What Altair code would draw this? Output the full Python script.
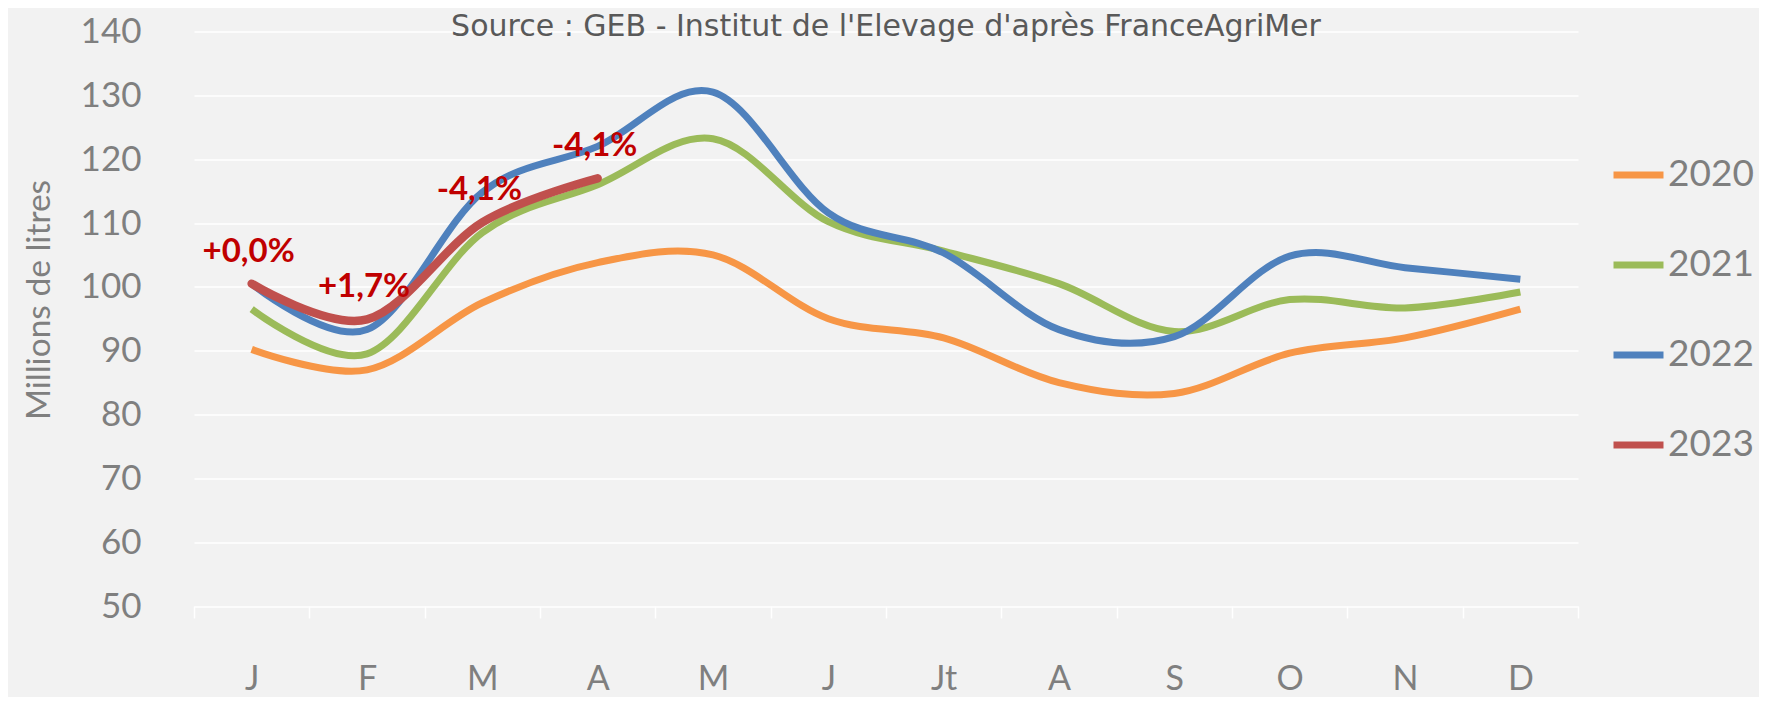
import altair as alt
import pandas as pd

# ---- data ----
month_labels = ["J", "F", "M", "A", "M", "J", "Jt", "A", "S", "O", "N", "D"]
month_idx = list(range(1, 13))
years = ["2020", "2021", "2022", "2023"]
colors = ["#F79646", "#9BBB59", "#4F81BD", "#C0504D"]

v2020 = [90.2, 87.0, 97.5, 103.8, 105.0, 95.0, 92.0, 85.0, 83.3, 89.6, 92.0, 96.5]
v2021 = [96.5, 89.5, 108.5, 116.0, 123.2, 110.2, 105.6, 100.5, 93.0, 98.0, 96.7, 99.2]
v2022 = [100.5, 93.3, 114.8, 122.0, 130.5, 111.6, 105.3, 93.3, 92.2, 104.8, 103.0, 101.2]
v2023 = [100.5, 94.9, 110.1, 117.0]
labels2023 = ["+0,0%", "+1,7%", "-4,1%", "-4,1%"]

title_text = "Source : GEB - Institut de l'Elevage d'après FranceAgriMer"
y_title = "Millions de litres"

rows = []
for yr, vals in zip(years[:3], [v2020, v2021, v2022]):
    for m, v in zip(month_idx, vals):
        rows.append({"year": yr, "m": m, "v": v})
df_prev = pd.DataFrame(rows)
df_23 = pd.DataFrame({"year": "2023", "m": month_idx[:len(v2023)], "v": v2023, "lab": labels2023})
df_title = pd.DataFrame({"t": [title_text]})

label_expr = "[" + ",".join("'%s'" % s for s in month_labels) + "][datum.value - 1]"

FONT = "Lato"
GREY = "#7f7f7f"

x_enc = alt.X(
    "m:O",
    scale=alt.Scale(type="band", domain=month_idx, paddingInner=0, paddingOuter=0),
    axis=alt.Axis(
        title=None,
        labelExpr=label_expr,
        labelAngle=0,
        labelFont=FONT,
        labelFontSize=34,
        labelColor=GREY,
        labelPadding=44,
        tickBand="extent",
        tickColor="white",
        tickSize=12,
        tickWidth=1.5,
        domain=False,
        grid=False,
    ),
)
y_enc = alt.Y(
    "v:Q",
    scale=alt.Scale(domain=[50, 140], nice=False, zero=False),
    axis=alt.Axis(
        values=list(range(50, 141, 10)),
        title=y_title,
        titleFont=FONT,
        titleFontSize=33.5,
        titleFontWeight="normal",
        titleColor=GREY,
        titleX=-155,
        titleY=268,
        titleAngle=270,
        titleAlign="center",
        titleBaseline="middle",
        labelFont=FONT,
        labelFontSize=35,
        labelColor=GREY,
        labelPadding=53,
        ticks=False,
        domain=False,
        grid=True,
        gridColor="white",
        gridWidth=1.5,
    ),
)
color_scale = alt.Scale(domain=years, range=colors)
legend = alt.Legend(
    title=None,
    orient="none",
    legendX=1416,
    legendY=115,
    symbolType="stroke",
    symbolSize=2500,
    symbolStrokeWidth=7,
    labelFont=FONT,
    labelFontSize=37,
    labelColor=GREY,
    labelOffset=1,
    rowPadding=43,
)

lines_prev = alt.Chart(df_prev).mark_line(
    interpolate="cardinal", strokeWidth=7, strokeCap="butt"
).encode(
    x=x_enc, y=y_enc,
    color=alt.Color("year:N", scale=color_scale, legend=legend),
    detail="year:N",
)
line_23 = alt.Chart(df_23).mark_line(
    interpolate="cardinal", strokeWidth=8.5, strokeCap="round"
).encode(
    x=x_enc, y=y_enc,
    color=alt.Color("year:N", scale=color_scale, legend=legend),
)
text_23 = alt.Chart(df_23).mark_text(
    font=FONT, fontSize=33, fontWeight="bold", color="#C00000",
    dx=-3, dy=-32, align="center", baseline="middle",
).encode(x=x_enc, y=y_enc, text="lab:N")

title_mark = alt.Chart(df_title).mark_text(
    font="DejaVu Sans", fontSize=30, color="#595959", align="center", baseline="alphabetic",
).encode(x=alt.value(692), y=alt.value(4), text="t:N")

chart = alt.layer(lines_prev, line_23, text_23, title_mark).properties(
    width=1384,
    height=574.5,
    background="#f2f2f2",
    padding={"left": 186, "top": 23.5, "right": 181, "bottom": 91},
    autosize=alt.AutoSizeParams(type="none"),
).configure_view(strokeWidth=0)

chart.save("out.html", embed_options={"renderer": "svg", "actions": False})
